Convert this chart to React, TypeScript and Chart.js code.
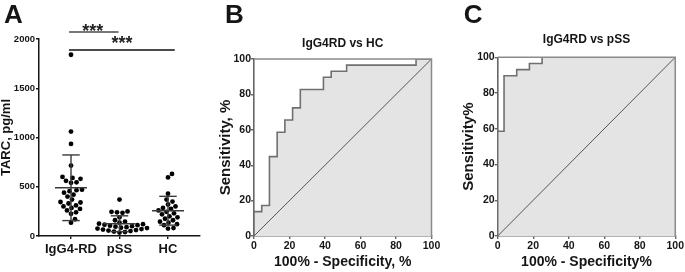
import React, { useEffect, useRef } from "react";
import { Chart, registerables } from "chart.js";

Chart.register(...registerables);

const FONT = "'Liberation Sans', Arial, Helvetica, sans-serif";
const INK = "#151515";

// ---------- Panel A: TARC levels (pg/ml) ----------
const groupLabels = ["IgG4-RD", "pSS", "HC"];
const tarcIgG4RD = [1840, 1060, 935, 715, 600, 590, 580, 560, 545, 540, 470, 465, 455, 440, 420, 400, 370, 345, 340, 330, 310, 300, 285, 275, 260, 240, 225, 170, 135];
const tarcPSS = [370, 250, 245, 240, 235, 190, 160, 145, 135, 125, 120, 115, 110, 105, 100, 95, 90, 85, 80, 75, 70, 65, 60, 55, 50, 45, 40, 35];
const tarcHC = [630, 595, 430, 370, 350, 320, 300, 285, 275, 260, 245, 230, 220, 200, 190, 175, 160, 145, 135, 120, 110, 80, 75];
const tarcTicks = [0, 500, 1000, 1500, 2000];
const sigLabels = ["***", "***"];
const sigFrom = [0.96, 0.96];
const sigTo = [1.98, 3.14];
const sigLevel = [2070, 1888];
const sigColors = ["#777777", "#111111"];

// ---------- ROC curves (100% - specificity, sensitivity), % ----------
const rocTicks = [0, 20, 40, 60, 80, 100];
const rocHcFpr = [0, 0, 4.35, 8.7, 13.04, 17.39, 21.74, 26.09, 39.13, 43.48, 52.17, 91.3, 100];
const rocHcTpr = [0, 13.79, 17.24, 44.83, 58.62, 65.52, 72.41, 82.76, 89.66, 93.1, 96.55, 100, 100];
const rocPssFpr = [0, 0, 3.57, 10.71, 17.86, 25.0, 100];
const rocPssTpr = [0, 58.62, 89.66, 93.1, 96.55, 100, 100];
const chanceLine = [0, 100];

const allGroups = [tarcIgG4RD, tarcPSS, tarcHC];

function mean(a: number[]) {
  return a.reduce((s, v) => s + v, 0) / a.length;
}
function sd(a: number[]) {
  const m = mean(a);
  return Math.sqrt(a.reduce((s, v) => s + (v - m) * (v - m), 0) / (a.length - 1));
}

function swarmOffsets(values: number[], toPx: (v: number) => number, diam: number): number[] {
  const order = values.map((_, i) => i).sort((a, b) => values[a] - values[b]);
  const placed: { x: number; y: number }[] = [];
  const offs = new Array(values.length).fill(0);
  for (const i of order) {
    const y = toPx(values[i]);
    let best = 0;
    for (let k = 0; k < 400; k++) {
      const cand = k === 0 ? 0 : (k % 2 === 1 ? 1 : -1) * Math.ceil(k / 2) * 0.5;
      if (placed.every((p) => (p.x - cand) ** 2 + (p.y - y) ** 2 >= diam * diam)) {
        best = cand;
        break;
      }
    }
    placed.push({ x: best, y });
    offs[i] = best;
  }
  return offs;
}

function stepVertices(fpr: number[], tpr: number[]) {
  const pts: { x: number; y: number }[] = [];
  for (let i = 0; i < fpr.length; i++) {
    if (i > 0) pts.push({ x: fpr[i], y: tpr[i - 1] });
    pts.push({ x: fpr[i], y: tpr[i] });
  }
  return pts;
}

type TextItem = { text: string; x: number | "center"; y: number; size: number; align?: CanvasTextAlign };

function textPlugin(items: TextItem[]) {
  return {
    id: "texts",
    afterDraw(chart: any) {
      const ctx = chart.ctx as CanvasRenderingContext2D;
      const area = chart.chartArea;
      ctx.save();
      ctx.fillStyle = INK;
      ctx.textBaseline = "alphabetic";
      for (const it of items) {
        ctx.font = `bold ${it.size}px ${FONT}`;
        if (it.x === "center") {
          ctx.textAlign = "center";
          ctx.fillText(it.text, (area.left + area.right) / 2, it.y);
        } else {
          ctx.textAlign = it.align || "left";
          ctx.fillText(it.text, it.x, it.y);
        }
      }
      ctx.restore();
    },
  };
}

const tickFont = (size: number) => ({ family: FONT, size, weight: "bold" as const });

function PanelA() {
  const ref = useRef<HTMLCanvasElement | null>(null);
  useEffect(() => {
    if (!ref.current) return;
    const meanSdPlugin = {
      id: "meanSd",
      afterDatasetsDraw(chart: any) {
        const { ctx, scales } = chart;
        const x = scales.x, y = scales.y;
        ctx.save();
        ctx.strokeStyle = "#3a3a3a";
        ctx.lineWidth = 1.4;
        const seg = (x1: number, y1: number, x2: number, y2: number) => {
          ctx.beginPath();
          ctx.moveTo(x1, y1);
          ctx.lineTo(x2, y2);
          ctx.stroke();
        };
        allGroups.forEach((vals, g) => {
          const c = g + 1;
          const m = mean(vals);
          const s = sd(vals);
          const cx = x.getPixelForValue(c);
          seg(x.getPixelForValue(c - 0.33), y.getPixelForValue(m), x.getPixelForValue(c + 0.33), y.getPixelForValue(m));
          seg(cx, y.getPixelForValue(Math.max(m - s, 0)), cx, y.getPixelForValue(m + s));
          seg(x.getPixelForValue(c - 0.18), y.getPixelForValue(m + s), x.getPixelForValue(c + 0.18), y.getPixelForValue(m + s));
          if (m - s > 0)
            seg(x.getPixelForValue(c - 0.18), y.getPixelForValue(m - s), x.getPixelForValue(c + 0.18), y.getPixelForValue(m - s));
        });
        ctx.restore();
      },
      afterDraw(chart: any) {
        const { ctx, scales } = chart;
        const x = scales.x, y = scales.y;
        ctx.save();
        sigLabels.forEach((lab, i) => {
          const yy = y.getPixelForValue(sigLevel[i]);
          const x1 = x.getPixelForValue(sigFrom[i]);
          const x2 = x.getPixelForValue(sigTo[i]);
          ctx.strokeStyle = sigColors[i];
          ctx.lineWidth = i === 0 ? 2 : 1.4;
          ctx.beginPath();
          ctx.moveTo(x1, yy);
          ctx.lineTo(x2, yy);
          ctx.stroke();
          ctx.fillStyle = "#222";
          ctx.font = `bold 18px ${FONT}`;
          ctx.textAlign = "center";
          ctx.textBaseline = "alphabetic";
          const tx = i === 0 ? (x1 + x2) / 2 - 1 : (x1 + x2) / 2;
          const ty = i === 0 ? yy + 5 : yy - 1;
          ctx.fillText(lab, tx, ty);
        });
        ctx.restore();
      },
    };

    const chart = new Chart(ref.current, {
      type: "scatter",
      data: {
        datasets: allGroups.map((vals, g) => ({
          label: groupLabels[g],
          data: vals.map((v) => ({ x: g + 1, y: v })),
          pointRadius: 2.4,
          pointHoverRadius: 2.4,
          backgroundColor: "#000",
          borderWidth: 0,
        })),
      },
      options: {
        animation: false,
        responsive: false,
        devicePixelRatio: 1,
        events: [],
        layout: { padding: { left: 0, right: 15, top: 39, bottom: 0 } },
        plugins: { legend: { display: false }, tooltip: { enabled: false } },
        scales: {
          x: {
            type: "linear",
            min: 0.34,
            max: 3.66,
            afterBuildTicks: (s: any) => {
              s.ticks = groupLabels.map((_, i) => ({ value: i + 1 }));
            },
            afterFit: (s: any) => {
              s.height = 36;
            },
            ticks: {
              autoSkip: false,
              maxRotation: 0,
              padding: 2.5,
              color: INK,
              font: tickFont(13),
              callback: (v: any) => groupLabels[Math.round(Number(v)) - 1] ?? "",
            },
            grid: { drawOnChartArea: false, drawTicks: true, tickLength: 3, color: INK, lineWidth: 1.4 },
            border: { display: true, color: INK, width: 1.5 },
          },
          y: {
            type: "linear",
            min: 0,
            max: 2000,
            afterBuildTicks: (s: any) => {
              s.ticks = tarcTicks.map((v) => ({ value: v }));
            },
            afterFit: (s: any) => {
              s.width = 39;
            },
            ticks: { padding: 1, color: INK, font: tickFont(9.5), callback: (v: any) => String(v) },
            grid: { drawOnChartArea: false, drawTicks: true, tickLength: 3, color: INK, lineWidth: 1.4 },
            border: { display: true, color: INK, width: 1.5 },
            title: {
              display: true,
              text: "TARC, pg/ml",
              color: INK,
              padding: 0,
              font: { family: FONT, size: 13, weight: "bold", lineHeight: 1 },
            },
          },
        },
      },
      plugins: [meanSdPlugin, textPlugin([{ text: "A", x: 4, y: 23, size: 26 }])],
    } as any);

    const xs: any = chart.scales.x;
    const ys: any = chart.scales.y;
    const pxPerUnit = xs.getPixelForValue(2) - xs.getPixelForValue(1);
    allGroups.forEach((vals, g) => {
      const offs = swarmOffsets(vals, (v) => ys.getPixelForValue(v), 5.1);
      (chart.data.datasets[g] as any).data = vals.map((v, i) => ({ x: g + 1 + offs[i] / pxPerUnit, y: v }));
    });
    chart.update("none");
    return () => chart.destroy();
  }, []);
  return <canvas ref={ref} width={215} height={272} style={{ position: "absolute", left: 0, top: 0, width: 215, height: 272 }} />;
}

type RocProps = {
  left: number;
  width: number;
  fpr: number[];
  tpr: number[];
  title: string;
  titleY: number;
  letter: string;
  letterX: number;
  yTitle: string;
  xTitle: string;
  axisW: number;
  padRight: number;
  padTop: number;
  yTitlePad: number;
};

function RocPanel(p: RocProps) {
  const ref = useRef<HTMLCanvasElement | null>(null);
  useEffect(() => {
    if (!ref.current) return;
    const AXIS = "#666666";
    const framePlugin = {
      id: "frame",
      afterDatasetsDraw(chart: any) {
        const { ctx, chartArea: a } = chart;
        ctx.save();
        ctx.strokeStyle = "#8a8a8a";
        ctx.lineWidth = 1.5;
        ctx.beginPath();
        ctx.moveTo(a.left, a.top);
        ctx.lineTo(a.right, a.top);
        ctx.lineTo(a.right, a.bottom);
        ctx.stroke();
        ctx.restore();
      },
    };
    const scaleBase = (axisIsX: boolean) => ({
      type: "linear",
      min: 0,
      max: 100,
      afterBuildTicks: (s: any) => {
        s.ticks = rocTicks.map((v) => ({ value: v }));
      },
      ticks: { padding: axisIsX ? 1 : 0, color: INK, font: tickFont(10.5), callback: (v: any) => String(v), maxRotation: 0, autoSkip: false },
      grid: { drawOnChartArea: false, drawTicks: true, tickLength: 3, color: AXIS, lineWidth: 1.4 },
      border: { display: true, color: AXIS, width: 1.6 },
    });
    const chart = new Chart(ref.current, {
      type: "line",
      data: {
        datasets: [
          {
            label: "chance",
            data: chanceLine.map((v) => ({ x: v, y: v })),
            borderColor: "#555555",
            borderWidth: 1,
            pointRadius: 0,
            fill: false,
          },
          {
            label: p.title,
            data: stepVertices(p.fpr, p.tpr),
            borderColor: "#707070",
            borderWidth: 1.6,
            backgroundColor: "#e4e4e4",
            pointRadius: 0,
            fill: "origin",
            tension: 0,
          },
        ],
      },
      options: {
        animation: false,
        responsive: false,
        devicePixelRatio: 1,
        events: [],
        layout: { padding: { left: 0, right: p.padRight, top: p.padTop, bottom: 0 } },
        plugins: { legend: { display: false }, tooltip: { enabled: false } },
        scales: {
          x: {
            ...scaleBase(true),
            afterFit: (s: any) => {
              s.height = 36;
            },
            title: {
              display: true,
              text: p.xTitle,
              color: INK,
              padding: { top: 0, bottom: 1 },
              font: { family: FONT, size: 14, weight: "bold" },
            },
          },
          y: {
            ...scaleBase(false),
            afterFit: (s: any) => {
              s.width = p.axisW;
            },
            title: {
              display: true,
              text: p.yTitle,
              color: INK,
              padding: { top: p.yTitlePad, bottom: 0 },
              font: { family: FONT, size: 15, weight: "bold" },
            },
          },
        },
      },
      plugins: [
        framePlugin,
        textPlugin([
          { text: p.letter, x: p.letterX, y: 23, size: 26 },
          { text: p.title, x: "center", y: p.titleY, size: 12 },
        ]),
      ],
    } as any);
    return () => chart.destroy();
  }, []);
  return (
    <canvas
      ref={ref}
      width={p.width}
      height={272}
      style={{ position: "absolute", left: p.left, top: 0, width: p.width, height: 272 }}
    />
  );
}

export default function App() {
  return (
    <div style={{ position: "fixed", left: 0, top: 0, width: 685, height: 272, background: "#fff", overflow: "hidden" }}>
      <PanelA />
      <RocPanel
        left={215}
        width={240}
        fpr={rocHcFpr}
        tpr={rocHcTpr}
        title="IgG4RD vs HC"
        titleY={46.8}
        letter="B"
        letterX={10}
        yTitle="Sensitivity, %"
        xTitle="100% - Specificity, %"
        axisW={39}
        padRight={23.5}
        padTop={59}
        yTitlePad={2}
      />
      <RocPanel
        left={455}
        width={230}
        fpr={rocPssFpr}
        tpr={rocPssTpr}
        title="IgG4RD vs pSS"
        titleY={42.5}
        letter="C"
        letterX={8.7}
        yTitle="Sensitivity%"
        xTitle="100% - Specificity%"
        axisW={42.7}
        padRight={8}
        padTop={57.3}
        yTitlePad={4.5}
      />
    </div>
  );
}
